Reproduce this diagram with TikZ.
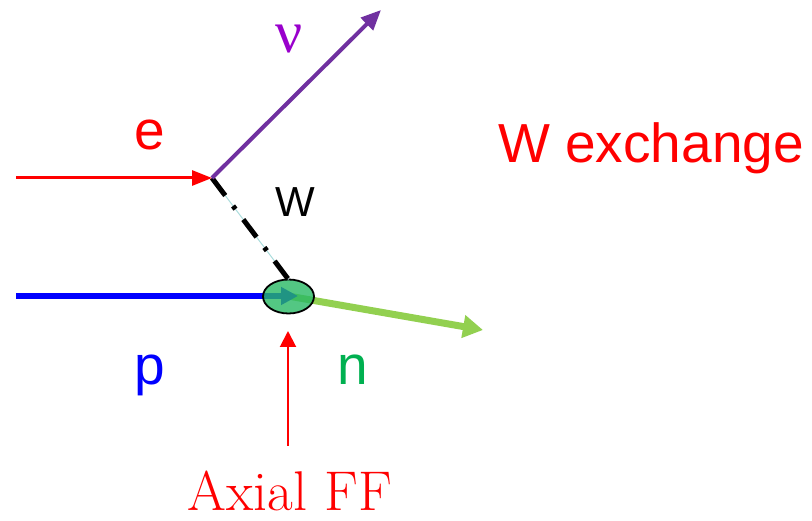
\documentclass[tikz,border=0pt]{standalone}
\usepackage{fontspec}
\setsansfont{Liberation Sans}
\newfontfamily\greekfont{Liberation Serif}
\usetikzlibrary{arrows.meta,shapes.geometric}
\definecolor{nuline}{RGB}{112,48,160}
\definecolor{nutext}{RGB}{153,0,204}
\definecolor{ngreen}{RGB}{0,176,80}
\definecolor{nline}{RGB}{146,208,80}
\definecolor{blobfill}{RGB}{40,185,100}
\definecolor{wthin}{RGB}{170,220,220}
\begin{document}
\begin{tikzpicture}[x=1pt,y=-1pt,
	lbl/.style={anchor=base,inner sep=0pt,font=\sffamily\fontsize{55}{60}\selectfont},
	blob/.style={draw,ellipse,line width=1.8pt,fill=blobfill,fill opacity=0.8,
		minimum width=51pt,minimum height=34pt,inner sep=0pt,outer sep=0pt},
	boson/.style={line width=5pt,dash pattern=on 22pt off 13pt on 4pt off 13pt}
	]
	\useasboundingbox (0,0) rectangle (812,521);
	% free ends
	\coordinate (ein) at (16,178);
	\coordinate (ev) at (212,178);
	\coordinate (nuout) at (381,10);
	\coordinate (pin) at (16,296);
	\coordinate (ptip) at (298,296);
	\coordinate (nout) at (483,330);
	\coordinate (ffin) at (288,446);
	\coordinate (fftip) at (288,331);
	% lines
	\draw[nline,line width=7pt,-{Triangle[length=20pt,width=22pt]}] (288,296) -- (nout);
	\draw[blue,line width=6pt,-{Triangle[length=17pt,width=17pt]}] (pin) -- (ptip);
	\node[blob] (vx) at (288.5,296.5) {};
	\draw[wthin,line width=1pt] (ev) -- (vx.north);
	\draw[boson] (ev) -- (vx.north);
	\draw[red,line width=3pt,-{Triangle[length=20pt,width=15pt]}] (ein) -- (ev);
	\draw[nuline,line width=4pt,-{Triangle[length=20pt,width=17pt]}] (ev) -- (nuout);
	\draw[red,line width=2pt,-{Triangle[length=16pt,width=16pt]}] (ffin) -- (fftip);
	% labels
	\node[lbl,red] (e) at (150,150) {e};
	\node[anchor=base,inner sep=0pt,nutext,font=\greekfont\fontsize{60}{64}\selectfont] (nu) at (289,53) {ν};
	\node[lbl,black,font=\sffamily\fontsize{42}{46}\selectfont] (w) at (295,217) {W};
	\node[lbl,blue] (p) at (150,385) {p};
	\node[lbl,ngreen] (n) at (353,385) {n};
	\node[lbl,red] (wx) at (651,163) {W exchange};
	\node[anchor=base,inner sep=0pt,red,font=\fontsize{56}{60}\selectfont] (ff) at (290,511) {Axial FF};
\end{tikzpicture}
\end{document}
